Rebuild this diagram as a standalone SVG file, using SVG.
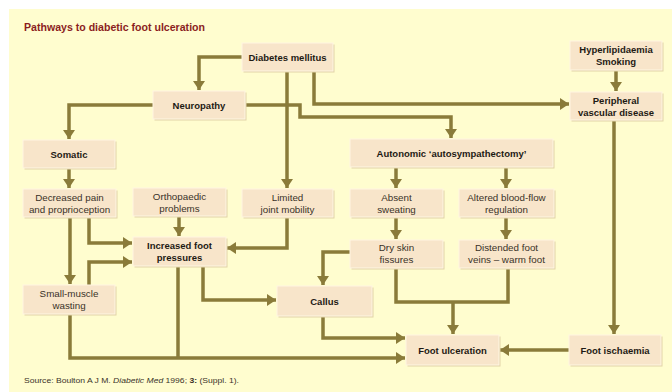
<svg xmlns="http://www.w3.org/2000/svg" width="672" height="392" viewBox="0 0 672 392">
<style>
.bg{fill:#FFFDCF}
.box{fill:#F8E5CA;stroke:#FFF6E2;stroke-width:1}
.sh{fill:#E2D3A8}
.t{font-family:"Liberation Sans",Arial,sans-serif;font-size:9.8px;fill:#3A3228;text-anchor:middle}
.b{font-weight:bold;fill:#1E1A14;font-size:9.5px}
.c{fill:none;stroke:#8A7B3A;stroke-width:3.5;stroke-linejoin:miter}
.a{marker-end:url(#ah)}
</style>
<defs>
<marker id="ah" markerUnits="userSpaceOnUse" markerWidth="12" markerHeight="12" refX="9" refY="6" orient="auto">
<path d="M0,0 L9,6 L0,12 z" fill="#8A7B3A"/>
</marker>
</defs>
<rect x="0" y="0" width="672" height="392" fill="#FFFFFF"/>
<rect class="bg" x="9" y="9" width="663" height="383"/>
<text x="24" y="31" font-family="'Liberation Sans',Arial,sans-serif" font-size="11" font-weight="bold" fill="#8B1E1E" textLength="181" lengthAdjust="spacingAndGlyphs">Pathways to diabetic foot ulceration</text>

<g id="connectors">
<path class="c a" d="M242,57 H199 V90"/>
<path class="c a" d="M287,71 V188"/>
<path class="c a" d="M314,71 V104 H569"/>
<path class="c a" d="M245,105 H300 V117 H451 V138"/>
<path class="c a" d="M153,105 H69 V139"/>
<path class="c a" d="M69,168 V188"/>
<path class="c a" d="M70,218 V284"/>
<path class="c a" d="M89,218 V243 H132"/>
<path class="c a" d="M89,285 V262 H132"/>
<path class="c a" d="M179,217 V236"/>
<path class="c a" d="M287,218 V248 H227"/>
<path class="c a" d="M203,267 V300 H276"/>
<path class="c a" d="M70,315 V358 H405"/>
<path class="c" d="M178,267 V358"/>
<path class="c a" d="M323,317 V338 H405"/>
<path class="c a" d="M350,252 H323 V285"/>
<path class="c" d="M396,268 V302 H508 V268"/>
<path class="c a" d="M453,302 V334"/>
<path class="c a" d="M396,168 V188"/>
<path class="c a" d="M506,168 V188"/>
<path class="c a" d="M396,217 V239"/>
<path class="c a" d="M506,217 V239"/>
<path class="c a" d="M616,71 V91"/>
<path class="c a" d="M614,120 V334"/>
<path class="c a" d="M569,350 H500"/>
</g>

<g id="diabetes">
<rect class="sh" x="243.5" y="44.5" width="91" height="28"/>
<rect class="box" x="242" y="43" width="91" height="28"/>
<text class="t b" x="287.5" y="60.5">Diabetes mellitus</text>
</g>
<g id="neuropathy">
<rect class="sh" x="154.5" y="92.5" width="92" height="28"/>
<rect class="box" x="153" y="91" width="92" height="28"/>
<text class="t b" x="199" y="108.5">Neuropathy</text>
</g>
<g id="somatic">
<rect class="sh" x="24.5" y="141.5" width="92" height="28"/>
<rect class="box" x="23" y="140" width="92" height="28"/>
<text class="t b" x="69" y="157.5">Somatic</text>
</g>
<g id="decreased">
<rect class="sh" x="24.5" y="190.5" width="93" height="28"/>
<rect class="box" x="23" y="189" width="93" height="28"/>
<text class="t" x="69.5" y="200.5">Decreased pain</text>
<text class="t" x="69.5" y="212.5">and proprioception</text>
</g>
<g id="orthopaedic">
<rect class="sh" x="134.5" y="189.5" width="93" height="28"/>
<rect class="box" x="133" y="188" width="93" height="28"/>
<text class="t" x="179.5" y="200">Orthopaedic</text>
<text class="t" x="179.5" y="212">problems</text>
</g>
<g id="limited">
<rect class="sh" x="243.5" y="190.5" width="91" height="28"/>
<rect class="box" x="242" y="189" width="91" height="28"/>
<text class="t" x="287.5" y="200.5">Limited</text>
<text class="t" x="287.5" y="212.5">joint mobility</text>
</g>
<g id="increased">
<rect class="sh" x="134.5" y="238.5" width="93" height="29"/>
<rect class="box" x="133" y="237" width="93" height="29"/>
<text class="t b" x="179.5" y="249">Increased foot</text>
<text class="t b" x="179.5" y="261">pressures</text>
</g>
<g id="smallmuscle">
<rect class="sh" x="24.5" y="286.5" width="92" height="29"/>
<rect class="box" x="23" y="285" width="92" height="29"/>
<text class="t" x="69" y="297">Small-muscle</text>
<text class="t" x="69" y="309">wasting</text>
</g>
<g id="callus">
<rect class="sh" x="278.5" y="287.5" width="95" height="30"/>
<rect class="box" x="277" y="286" width="95" height="30"/>
<text class="t b" x="324.5" y="304.5">Callus</text>
</g>
<g id="autonomic">
<rect class="sh" x="351.5" y="140.5" width="203" height="28"/>
<rect class="box" x="350" y="139" width="203" height="28"/>
<text class="t b" x="451.5" y="156.5">Autonomic ‘autosympathectomy’</text>
</g>
<g id="absent">
<rect class="sh" x="351.5" y="190.5" width="93" height="28"/>
<rect class="box" x="350" y="189" width="93" height="28"/>
<text class="t" x="396.5" y="200.5">Absent</text>
<text class="t" x="396.5" y="212.5">sweating</text>
</g>
<g id="altered">
<rect class="sh" x="460.5" y="190.5" width="95" height="28"/>
<rect class="box" x="459" y="189" width="95" height="28"/>
<text class="t" x="506.5" y="200.5">Altered blood-flow</text>
<text class="t" x="506.5" y="212.5">regulation</text>
</g>
<g id="dryskin">
<rect class="sh" x="351.5" y="241.5" width="93" height="28"/>
<rect class="box" x="350" y="240" width="93" height="28"/>
<text class="t" x="396.5" y="251">Dry skin</text>
<text class="t" x="396.5" y="263">fissures</text>
</g>
<g id="distended">
<rect class="sh" x="460.5" y="241.5" width="95" height="28"/>
<rect class="box" x="459" y="240" width="95" height="28"/>
<text class="t" x="506.5" y="251">Distended foot</text>
<text class="t" x="506.5" y="263">veins – warm foot</text>
</g>
<g id="hyperlipidaemia">
<rect class="sh" x="571.5" y="42.5" width="92" height="29"/>
<rect class="box" x="570" y="41" width="92" height="29"/>
<text class="t b" x="616" y="53">Hyperlipidaemia</text>
<text class="t b" x="616" y="65">Smoking</text>
</g>
<g id="pvd">
<rect class="sh" x="571.5" y="93.5" width="92" height="28"/>
<rect class="box" x="570" y="92" width="92" height="28"/>
<text class="t b" x="616" y="103.5">Peripheral</text>
<text class="t b" x="616" y="115.5">vascular disease</text>
</g>
<g id="footulceration">
<rect class="sh" x="407.5" y="336.5" width="93" height="30"/>
<rect class="box" x="406" y="335" width="93" height="30"/>
<text class="t b" x="452.5" y="353.5">Foot ulceration</text>
</g>
<g id="footischaemia">
<rect class="sh" x="570.5" y="336.5" width="92" height="30"/>
<rect class="box" x="569" y="335" width="92" height="30"/>
<text class="t b" x="615" y="353.5">Foot ischaemia</text>
</g>

<text x="24" y="383" font-family="'Liberation Sans',Arial,sans-serif" font-size="8" fill="#3A3228" textLength="215" lengthAdjust="spacingAndGlyphs">Source: Boulton A J M. <tspan font-style="italic">Diabetic Med</tspan> 1996; <tspan font-weight="bold">3:</tspan> (Suppl. 1).</text>
</svg>
